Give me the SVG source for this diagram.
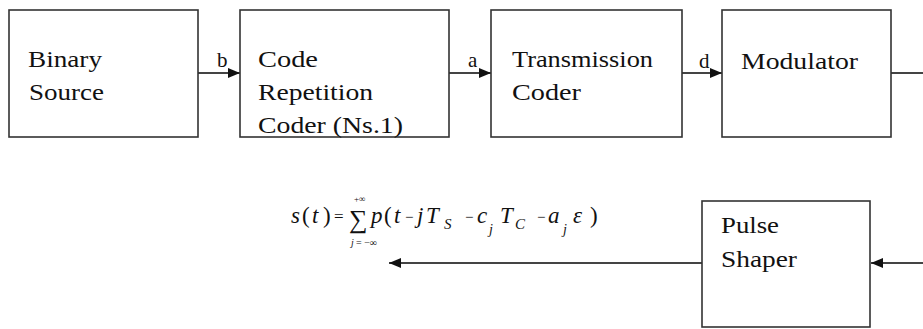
<svg xmlns="http://www.w3.org/2000/svg" width="923" height="329" viewBox="0 0 923 329">
<defs>
<marker id="ah" markerWidth="12" markerHeight="10" refX="12" refY="5" orient="auto" markerUnits="userSpaceOnUse">
<path d="M0,0 L12,5 L0,10 Z" fill="#111"/>
</marker>
</defs>
<style>
.box{fill:#fff;stroke:#333;stroke-width:1.6}
.lbl{font-family:'Liberation Serif','DejaVu Serif',serif;font-size:24px;fill:#111}
.sm{font-family:'Liberation Serif','DejaVu Serif',serif;font-size:21px;fill:#111}
.conn{stroke:#444;stroke-width:2;fill:none}
.m{font-family:'Liberation Serif','DejaVu Serif',serif;font-style:italic;fill:#111}
.n{font-style:normal}
</style>
<rect width="923" height="329" fill="#fff"/>
<g id="connectors">
<line class="conn" x1="198" y1="73" x2="240" y2="73" marker-end="url(#ah)"/>
<line class="conn" x1="449" y1="73" x2="491" y2="73" marker-end="url(#ah)"/>
<line class="conn" x1="682" y1="73" x2="722" y2="73" marker-end="url(#ah)"/>
<line class="conn" x1="891" y1="73" x2="923" y2="73"/>
<line class="conn" x1="923" y1="263" x2="871" y2="263" marker-end="url(#ah)"/>
<line class="conn" x1="702" y1="263" x2="389" y2="263" marker-end="url(#ah)"/>
<text class="sm" x="217" y="67">b</text>
<text class="sm" x="468" y="67">a</text>
<text class="sm" x="699" y="68">d</text>
</g>
<g id="binary-source">
<rect class="box" x="9" y="10" width="189" height="127"/>
<text class="lbl" x="28" y="67" textLength="74" lengthAdjust="spacingAndGlyphs">Binary</text>
<text class="lbl" x="29" y="100" textLength="75" lengthAdjust="spacingAndGlyphs">Source</text>
</g>
<g id="code-repetition-coder">
<rect class="box" x="240" y="10" width="209" height="127"/>
<text class="lbl" x="258" y="67" textLength="60" lengthAdjust="spacingAndGlyphs">Code</text>
<text class="lbl" x="258" y="100" textLength="115" lengthAdjust="spacingAndGlyphs">Repetition</text>
<text class="lbl" x="258" y="133" textLength="145" lengthAdjust="spacingAndGlyphs">Coder (Ns.1)</text>
</g>
<g id="transmission-coder">
<rect class="box" x="491" y="10" width="191" height="127"/>
<text class="lbl" x="512" y="67" textLength="141" lengthAdjust="spacingAndGlyphs">Transmission</text>
<text class="lbl" x="512" y="100" textLength="69" lengthAdjust="spacingAndGlyphs">Coder</text>
</g>
<g id="modulator">
<rect class="box" x="722" y="10" width="169" height="127"/>
<text class="lbl" x="741" y="69" textLength="117" lengthAdjust="spacingAndGlyphs">Modulator</text>
</g>
<g id="pulse-shaper">
<rect class="box" x="702" y="201" width="168" height="126"/>
<text class="lbl" x="721" y="233" textLength="58" lengthAdjust="spacingAndGlyphs">Pulse</text>
<text class="lbl" x="721" y="267" textLength="76" lengthAdjust="spacingAndGlyphs">Shaper</text>
</g>
<g id="formula">
<text class="m" font-size="23" y="223"><tspan x="291">s</tspan><tspan x="302" class="n">(</tspan><tspan x="312">t</tspan><tspan x="323" class="n">)</tspan></text>
<text class="m n" font-size="17" x="334" y="222">=</text>
<text class="m n" font-size="26" x="349" y="228">∑</text>
<text class="m n" font-size="9" x="354" y="202">+∞</text>
<text class="m" font-size="10" y="246"><tspan x="351">j</tspan><tspan x="356" class="n">= −∞</tspan></text>
<text class="m" font-size="23" y="223"><tspan x="371">p</tspan><tspan x="384" class="n">(</tspan><tspan x="394">t</tspan><tspan x="417">j</tspan><tspan x="426">T</tspan><tspan x="477">c</tspan><tspan x="500">T</tspan><tspan x="548">a</tspan><tspan x="573">ε</tspan><tspan x="590" class="n">)</tspan></text>
<text class="m n" font-size="15" y="222"><tspan x="405">−</tspan><tspan x="465">−</tspan><tspan x="537">−</tspan></text>
<text class="m" font-size="15" y="229"><tspan x="444">S</tspan><tspan x="515">C</tspan></text>
<text class="m" font-size="14" y="234"><tspan x="489">j</tspan><tspan x="563">j</tspan></text>
</g>
</svg>
